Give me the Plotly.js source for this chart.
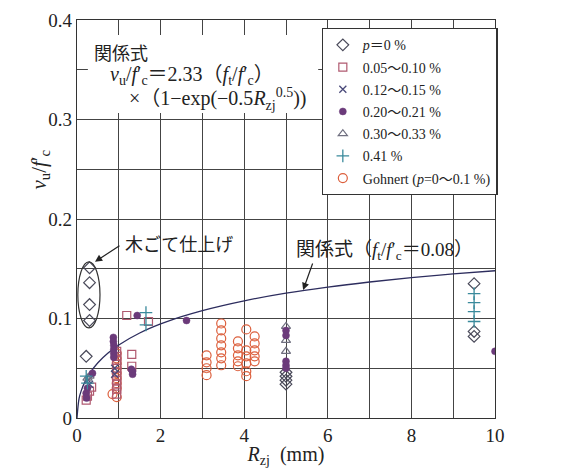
<!DOCTYPE html>
<html>
<head>
<meta charset="utf-8">
<script src="https://cdn.plot.ly/plotly-3.0.1.min.js"></script>
<style>html,body{margin:0;padding:0;background:#fff;}#chart{width:567px;height:468px;}</style>
</head>
<body>
<div id="chart"></div>
<script>
// Relation curve  v_u/f'c = 2.33*0.08*(1-exp(-0.5*Rzj^0.5)), values read at sample points
const curveR = [0, 0.05, 0.1, 0.2, 0.3, 0.5, 0.75, 1, 1.5, 2, 2.5, 3, 4, 5, 6, 7, 8, 9, 10];
const curveV = [0, 0.0197, 0.0273, 0.0373, 0.0447, 0.0555, 0.0655, 0.0734, 0.0854, 0.0945, 0.1018, 0.1080, 0.1178, 0.1255, 0.1316, 0.1367, 0.1411, 0.1448, 0.1480];

// p = 0 %
const p0R = [0.3, 0.3, 0.3, 0.3, 0.22, 5, 5, 5, 5, 9.5, 9.5, 9.5];
const p0V = [0.151, 0.136, 0.114, 0.098, 0.062, 0.046, 0.042, 0.038, 0.034, 0.135, 0.087, 0.082];

// 0.05~0.10 %
const p05R = [0.22, 0.25, 0.35, 0.3, 0.95, 0.95, 0.95, 0.95, 0.95, 0.95, 0.95, 0.95, 0.95, 0.95, 0.95, 1.19, 1.71, 1.31, 1.31];
const p05V = [0.018, 0.022, 0.031, 0.027, 0.024, 0.029, 0.034, 0.038, 0.042, 0.046, 0.050, 0.054, 0.058, 0.062, 0.067, 0.103, 0.097, 0.064, 0.052];

// 0.12~0.15 %
const p12R = [0.27, 0.3, 0.9, 0.9];
const p12V = [0.038, 0.034, 0.050, 0.044];

// 0.20~0.21 %
const p20R = [0.37, 0.22, 0.23, 0.25, 0.87, 0.87, 0.88, 0.88, 0.88, 0.88, 1.33, 1.33, 1.30, 1.44, 2.62, 5, 5, 5, 5, 5, 10];
const p20V = [0.045, 0.025, 0.020, 0.030, 0.081, 0.077, 0.073, 0.069, 0.065, 0.061, 0.047, 0.044, 0.049, 0.103, 0.098, 0.088, 0.083, 0.057, 0.053, 0.050, 0.067];

// 0.30~0.33 %
const p30R = [5, 5, 5, 0.25, 0.3];
const p30V = [0.092, 0.078, 0.067, 0.040, 0.042];

// 0.41 %
const p41R = [1.65, 1.65, 9.5, 9.5, 9.5, 9.5, 0.22, 0.25];
const p41V = [0.106, 0.0935, 0.125, 0.116, 0.107, 0.097, 0.042, 0.035];

// Gohnert (p = 0~0.1 %)
const gohR = [0.95, 0.85, 0.95, 0.95, 0.95, 0.95, 0.95, 0.95, 0.95, 0.95,
              3.1, 3.1, 3.1, 3.1,
              3.45, 3.45, 3.45, 3.45, 3.45, 3.45, 3.45,
              3.85, 3.85, 3.85, 3.85, 3.85,
              4.05, 4.05, 4.05, 4.05, 4.05, 4.05,
              4.25, 4.25, 4.25, 4.25, 4.25];
const gohV = [0.021, 0.024, 0.030, 0.035, 0.040, 0.045, 0.050, 0.055, 0.060, 0.065,
              0.063, 0.056, 0.050, 0.043,
              0.095, 0.088, 0.080, 0.073, 0.066, 0.060, 0.053,
              0.077, 0.070, 0.063, 0.057, 0.052,
              0.089, 0.068, 0.062, 0.055, 0.047, 0.042,
              0.082, 0.075, 0.068, 0.062, 0.057];

const legendNames = ['<i>p</i>＝0 %', '0.05～0.10 %', '0.12～0.15 %', '0.20～0.21 %', '0.30～0.33 %', '0.41 %', 'Gohnert (<i>p</i>=0～0.1 %)'];

const serif = "'Liberation Serif', 'DejaVu Serif', 'Noto Sans CJK JP', serif";
const cjk = "'Noto Sans CJK JP', 'Liberation Serif', serif";

function sc(name, xs, ys, sym, color, size, grp, lw) {
  return {type: 'scatter', mode: 'markers', name: name, x: xs, y: ys, legendgroup: grp,
    marker: {symbol: sym, color: color, size: size, line: {color: color, width: lw === undefined ? 1.2 : lw}}};
}

const traces = [
  {type: 'scatter', mode: 'lines', x: curveR, y: curveV, line: {color: '#2d2d5e', width: 1.3, shape: 'spline'}, showlegend: false, hoverinfo: 'skip'},
  sc(legendNames[6], gohR, gohV, 'circle-open', '#dc5f3c', 9, 'g7'),
  sc(legendNames[1], p05R, p05V, 'square-open', '#b05a70', 8, 'g2'),
  sc(legendNames[2], p12R, p12V, 'x-thin-open', '#4a4a7a', 7, 'g3', 1.3),
  sc(legendNames[4], p30R, p30V, 'triangle-up-open', '#707080', 8, 'g5'),
  sc(legendNames[0], p0R, p0V, 'diamond-open', '#4a4a5a', 9, 'g1'),
  sc(legendNames[3], p20R, p20V, 'circle', '#6b3a7a', 7, 'g4', 0.5),
  sc(legendNames[5], p41R, p41V, 'cross-thin-open', '#3a8a9c', 9, 'g6', 1.3)
];
const order = ['g1','g2','g3','g4','g5','g6','g7'];
traces.forEach(t => { if (t.legendgroup) t.legendrank = order.indexOf(t.legendgroup) + 1; });

const sp = '\u2002';
const layout = {
  width: 567, height: 468,
  margin: {l: 77, r: 72, t: 20, b: 50},
  paper_bgcolor: '#fff', plot_bgcolor: '#fff',
  showlegend: true,
  font: {family: serif, color: '#222', size: 16},
  xaxis: {range: [0, 10], dtick: 2, tick0: 0, showgrid: true, gridcolor: '#444', gridwidth: 1,
    minor: {dtick: 1, showgrid: true, gridcolor: '#444', gridwidth: 1},
    zeroline: false, showline: true, linecolor: '#333', linewidth: 1.3, mirror: true, ticks: '',
    tickfont: {family: serif, size: 19, color: '#222'},
    title: {text: '<i>R</i><sub>zj</sub>' + sp + '(mm)', font: {family: serif, size: 20, color: '#222'}, standoff: 6}},
  yaxis: {range: [0, 0.4], dtick: 0.1, tick0: 0, showgrid: true, gridcolor: '#444', gridwidth: 1,
    minor: {dtick: 0.05, showgrid: true, gridcolor: '#444', gridwidth: 1},
    zeroline: false, showline: true, linecolor: '#333', linewidth: 1.3, mirror: true, ticks: '',
    tickfont: {family: serif, size: 19, color: '#222'}},
  legend: {x: 0.585, y: 0.98, xanchor: 'left', yanchor: 'top', bgcolor: '#fff', bordercolor: '#333', borderwidth: 1.3,
    font: {family: serif, size: 14, color: '#222'}, traceorder: 'grouped', tracegroupgap: 1, itemwidth: 30},
  shapes: [
    {type: 'rect', xref: 'x', yref: 'y', x0: 0.26, x1: 5.77, y0: 0.3065, y1: 0.385, fillcolor: '#fff', line: {width: 0}, layer: 'between'},
    {type: 'circle', xref: 'x', yref: 'y', x0: 0.02, x1: 0.55, y0: 0.0905, y1: 0.157, line: {color: '#333', width: 1.2}}
  ],
  annotations: [
    {xref: 'x', yref: 'y', x: 0.36, y: 0.368, xanchor: 'left', yanchor: 'middle', showarrow: false, text: '関係式', font: {family: cjk, size: 18, color: '#222'}},
    {xref: 'x', yref: 'y', x: 0.74, y: 0.344, xanchor: 'left', yanchor: 'middle', showarrow: false,
      text: '<i>v</i><sub>u</sub>/<i>f</i>′<sub>c</sub>＝2.33（<i>f</i><sub>t</sub>/<i>f</i>′<sub>c</sub>）', font: {family: serif, size: 20, color: '#222'}},
    {xref: 'x', yref: 'y', x: 1.2, y: 0.321, xanchor: 'left', yanchor: 'middle', showarrow: false,
      text: '×（1−exp(−0.5<i>R</i><sub>zj</sub><sup>0.5</sup>))', font: {family: serif, size: 20, color: '#222'}},
    {xref: 'x', yref: 'y', x: 1.1, y: 0.176, xanchor: 'left', yanchor: 'middle', showarrow: false, text: '木ごて仕上げ', font: {family: cjk, size: 18, color: '#222'}},
    {xref: 'x', yref: 'y', x: 0.43, y: 0.157, ax: 26, ay: -17, text: '', showarrow: true, arrowhead: 2, arrowsize: 1.2, arrowwidth: 1.2, arrowcolor: '#222'},
    {xref: 'x', yref: 'y', x: 5.2, y: 0.168, xanchor: 'left', yanchor: 'middle', showarrow: false,
      text: '関係式（<i>f</i><sub>t</sub>/<i>f</i>′<sub>c</sub>＝0.08）', font: {family: serif, size: 19, color: '#222'}},
    {xref: 'x', yref: 'y', x: 5.41, y: 0.1286, ax: 10, ay: -28, text: '', showarrow: true, arrowhead: 2, arrowsize: 1.2, arrowwidth: 1.2, arrowcolor: '#222'},
    {xref: 'paper', yref: 'y', x: -0.088, y: 0.25, xanchor: 'center', yanchor: 'middle', showarrow: false, textangle: -90,
      text: '<i>v</i><sub>u</sub>/<i>f</i>′<sub>c</sub>', font: {family: serif, size: 21, color: '#222'}}
  ]
};

Plotly.newPlot('chart', traces, layout, {displayModeBar: false, staticPlot: true});
</script>
</body>
</html>
